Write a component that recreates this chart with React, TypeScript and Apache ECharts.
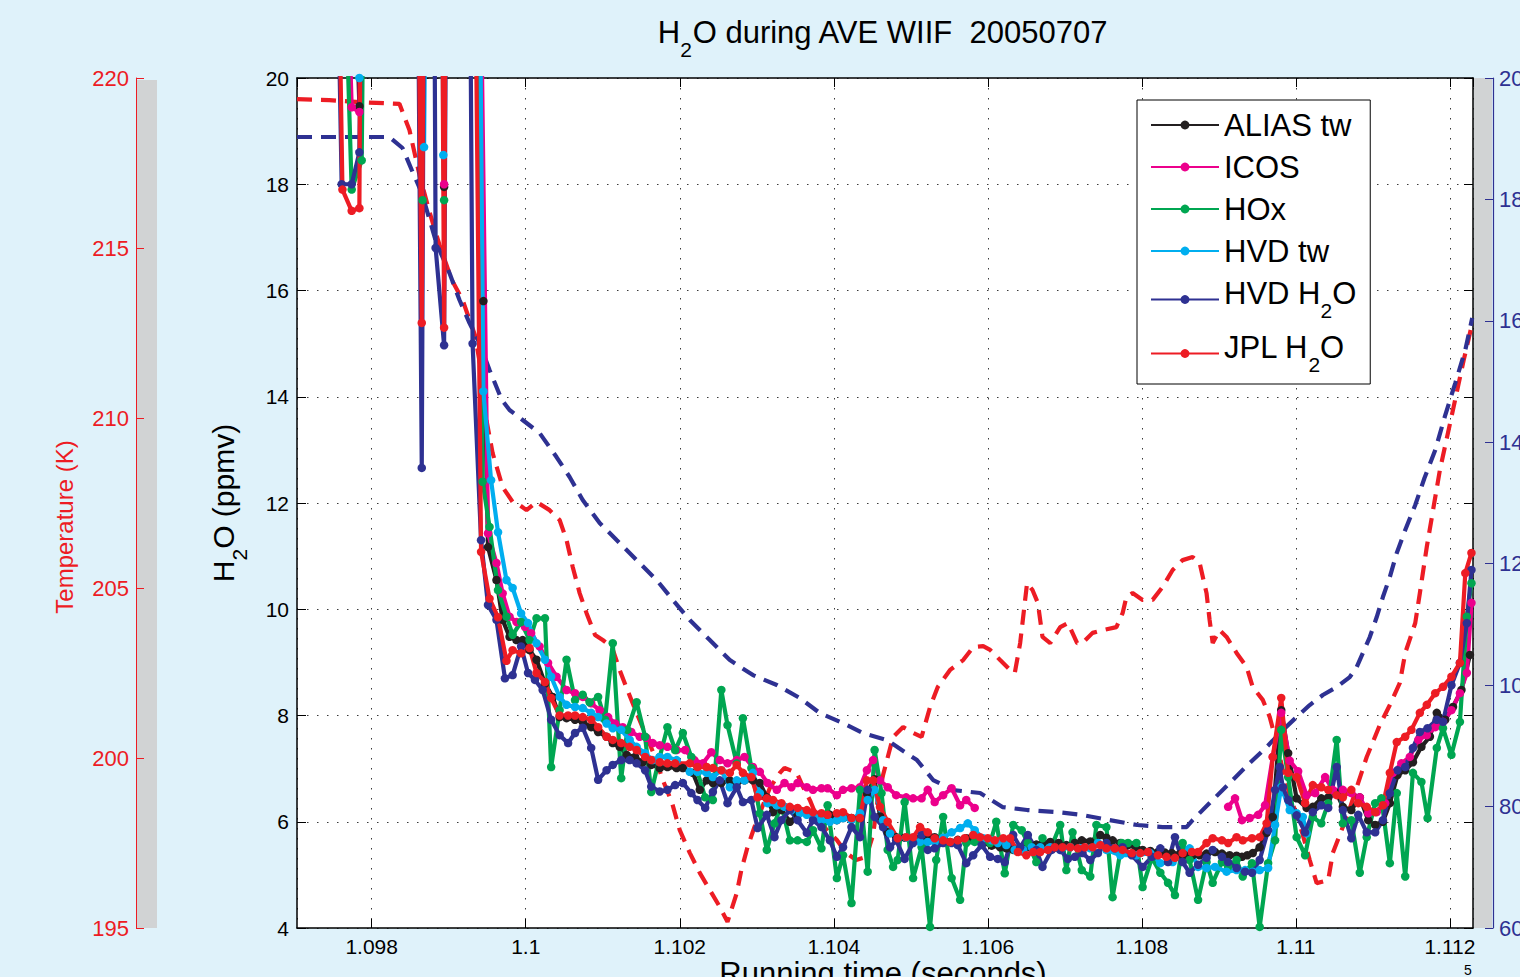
import React, { useEffect, useRef } from 'react';
import * as echarts from 'echarts';

const FONT = 'Liberation Sans, Arial, Helvetica, sans-serif';

// time axis (seconds) and value ranges
const X_MIN = 109703;
const X_MAX = 111230;
const H2O_MIN = 4, H2O_MAX = 20, H2O_STEP = 2;
const T_MIN = 195, T_MAX = 220, T_STEP = 5;
const P_MIN = 60, P_MAX = 200, P_STEP = 20;

const seriesNames = ['ALIAS tw', 'ICOS', 'HOx', 'HVD tw', 'HVD H2O', 'JPL H2O'];
const seriesColors = ['#231f20', '#ec008c', '#00a651', '#00aeef', '#2e3192', '#ed1c24'];

const aliasTw: any[] = [
  [109770,26],[109784,19.47],[109790,26],
  [109890,26],[109894,17.95],[109898,26],
  [109936,26],[109945,15.8],[109951,11.17],[109962,10.55],[109970,9.8],[109979,9.48],[109988,9.42],[109996,9.42],[110005,9.23],[110014,9.05],[110025,8.6],[110035,8.35],[110044,7.97],[110053,7.95],[110064,7.92],[110074,7.88],[110085,7.78],[110094,7.69],[110105,7.6],[110113,7.48],[110122,7.41],[110131,7.26],[110142,7.22],[110152,7.12],[110163,7.07],[110174,7.01],[110184,7.03],[110196,7.01],[110204,7.01],[110217,6.92],[110226,6.6],[110235,6.78],[110243,6.73],[110254,6.73],[110265,6.78],[110274,6.73],[110284,6.78],[110295,6.78],[110304,6.73],[110313,6.46],[110321,6.18],[110332,6.22],[110343,6.0],[110353,6.13],[110365,6.18],[110373,6.16],[110384,6.09],[110395,6.13],[110404,6.03],[110412,6.07],[110423,6.07],[110434,6.07],[110443,6.54],[110453,6.8],[110460,6.1],[110470,5.8],[110481,5.71],[110492,5.7],[110503,5.69],[110514,5.72],[110522,5.72],[110531,5.71],[110542,5.65],[110551,5.62],[110561,5.66],[110572,5.69],[110583,5.65],[110594,5.6],[110605,5.55],[110616,5.52],[110624,5.5],[110633,5.47],[110642,5.5],[110652,5.52],[110663,5.57],[110671,5.6],[110681,5.62],[110692,5.6],[110702,5.56],[110713,5.6],[110722,5.65],[110733,5.63],[110746,5.75],[110754,5.7],[110762,5.65],[110772,5.6],[110782,5.56],[110793,5.5],[110801,5.47],[110811,5.45],[110821,5.43],[110830,5.42],[110839,5.41],[110849,5.39],[110858,5.37],[110866,5.37],[110875,5.37],[110884,5.4],[110895,5.43],[110904,5.4],[110914,5.37],[110923,5.36],[110930,5.34],[110937,5.37],[110944,5.41],[110953,5.52],[110962,5.79],[110970,6.09],[110981,8.1],[110990,7.29],[111001,6.44],[111014,6.26],[111022,6.28],[111033,6.44],[111042,6.46],[111053,6.54],[111061,6.28],[111072,6.22],[111083,6.46],[111094,6.03],[111103,5.94],[111113,6.0],[111122,6.35],[111132,6.88],[111142,6.97],[111152,7.12],[111163,7.41],[111174,7.6],[111183,8.05],[111194,7.92],[111204,8.16],[111215,8.48],[111226,9.14]
];

const icos: any[] = [
  [109760,26],[109774,19.45],[109784,19.36],[109789,26],
  [109890,26],[109894,18.0],[109898,26],
  [109938,26],[109951,11.43],[109962,10.87],[109970,10.3],[109979,9.86],[109988,9.76],[109999,9.67],[110007,9.55],[110018,9.3],[110029,8.99],[110040,8.73],[110053,8.48],[110064,8.42],[110074,8.35],[110085,8.23],[110096,8.1],[110107,7.97],[110116,7.85],[110126,7.78],[110137,7.69],[110148,7.6],[110157,7.58],[110165,7.48],[110174,7.44],[110184,7.41],[110196,7.35],[110207,7.35],[110219,7.16],[110230,7.1],[110241,7.31],[110252,7.16],[110262,7.1],[110274,7.16],[110284,7.22],[110295,7.03],[110304,6.94],[110314,6.73],[110326,6.6],[110336,6.73],[110345,6.65],[110353,6.73],[110365,6.65],[110373,6.6],[110384,6.63],[110392,6.63],[110404,6.5],[110412,6.6],[110423,6.63],[110434,6.65],[110443,6.97],[110451,7.16],[110460,6.78],[110470,6.65],[110481,6.5],[110494,6.46],[110503,6.44],[110514,6.44],[110522,6.6],[110531,6.37],[110542,6.5],[110553,6.63],[110564,6.31],[110572,6.41],[110583,6.26],
  [110700,'-'],
  [110912,6.28],[110921,6.44],[110930,6.03],[110940,6.07],[110951,6.13],[110960,6.31],[110970,7.22],[110981,8.05],[110992,7.15],[111003,6.95],[111014,6.5],[111025,6.54],[111038,6.84],[111048,6.6],[111061,6.6],[111072,6.54],[111083,6.46],[111094,6.16],[111105,6.18],[111116,6.35],[111126,6.92],[111137,7.1],[111148,7.22],[111159,7.54],[111170,7.63],[111181,7.78],[111191,7.88],[111202,8.1],[111213,8.42],[111222,8.8],[111228,10.12]
];

const hox: any[] = [
  [109757,26],[109774,17.9],[109787,18.45],[109792,26],
  [109860,26],[109866,17.7],[109870,26],[109890,26],[109894,17.7],[109898,26],
  [109936,26],[109944,12.4],[109953,11.55],[109964,10.36],[109975,9.86],[109983,9.52],[109994,9.76],[110005,9.42],[110014,9.83],[110025,9.83],[110033,7.03],[110044,8.1],[110053,9.05],[110064,8.29],[110074,8.39],[110083,8.25],[110094,8.35],[110103,7.92],[110113,9.36],[110124,6.82],[110132,7.73],[110144,8.25],[110155,7.6],[110163,6.56],[110174,7.22],[110184,7.78],[110194,7.35],[110204,7.67],[110215,7.22],[110223,6.94],[110233,6.46],[110243,6.41],[110254,8.48],[110262,7.82],[110274,7.1],[110282,7.95],[110293,7.01],[110304,6.16],[110313,5.47],[110323,5.97],[110332,6.31],[110343,5.65],[110353,5.65],[110365,5.62],[110373,5.84],[110384,5.5],[110392,6.31],[110404,4.94],[110412,5.37],[110423,4.47],[110434,6.6],[110444,5.06],[110453,7.35],[110462,6.54],[110470,5.47],[110477,5.15],[110483,5.28],[110492,6.37],[110503,4.94],[110514,5.52],[110525,4.02],[110533,5.28],[110542,6.09],[110553,4.94],[110564,4.53],[110572,5.6],[110583,5.62],[110594,5.65],[110603,5.6],[110611,6.0],[110622,5.03],[110633,5.94],[110644,5.84],[110652,5.6],[110663,5.24],[110671,5.69],[110681,5.47],[110694,5.94],[110702,5.09],[110710,5.8],[110722,5.09],[110733,4.97],[110741,5.94],[110754,5.9],[110762,4.58],[110774,5.6],[110782,5.6],[110793,5.6],[110801,4.77],[110813,5.32],[110824,5.04],[110834,4.85],[110843,4.62],[110853,5.6],[110862,5.28],[110873,4.53],[110884,5.24],[110892,4.85],[110904,5.24],[110912,5.15],[110923,5.28],[110931,4.97],[110943,5.22],[110953,4.02],[110964,5.22],[110973,5.65],[110981,7.73],[110990,6.84],[111001,5.71],[111012,5.37],[111022,6.09],[111033,5.97],[111042,6.35],[111053,7.54],[111061,5.97],[111072,6.03],[111083,5.04],[111092,5.71],[111103,6.35],[111111,6.44],[111122,5.22],[111131,6.54],[111142,4.97],[111152,6.92],[111163,6.75],[111171,6.07],[111183,7.39],[111191,7.76],[111202,7.26],[111213,7.88],[111222,9.86],[111228,10.49]
];

const hvdTw: any[] = [
  [109780,26],[109784,20.0],[109788,26],
  [109862,26],[109868,18.7],[109872,26],[109890,26],[109893,18.55],[109897,26],
  [109938,26],[109945,14.1],[109955,12.43],[109964,11.45],[109975,10.55],[109983,10.4],[109994,9.92],[110003,9.74],[110014,9.36],[110025,9.05],[110033,8.73],[110044,8.35],[110053,8.2],[110064,8.16],[110074,8.14],[110085,8.05],[110094,7.97],[110105,7.85],[110113,7.76],[110124,7.73],[110135,7.54],[110144,7.41],[110155,7.29],[110165,7.16],[110174,7.22],[110184,7.22],[110196,7.16],[110213,6.94],[110223,6.94],[110235,6.92],[110243,6.84],[110254,6.97],[110265,6.65],[110274,6.78],[110284,6.78],[110295,6.92],[110304,6.54],[110314,6.35],[110326,6.31],[110336,6.28],[110345,6.22],[110356,6.16],[110365,6.13],[110375,6.09],[110384,6.03],[110395,6.0],[110404,6.03],[110412,6.07],[110423,6.03],[110434,6.16],[110444,6.41],[110453,6.6],[110464,6.03],[110473,5.78],[110483,5.69],[110494,5.7],[110503,5.69],[110512,5.62],[110522,5.62],[110531,5.62],[110542,5.7],[110553,5.8],[110564,5.88],[110574,5.97],[110583,5.84],[110594,5.69],[110605,5.65],[110613,5.6],[110624,5.56],[110635,5.47],[110646,5.47],[110657,5.52],[110668,5.52],[110681,5.52],[110694,5.47],[110707,5.52],[110720,5.5],[110733,5.5],[110743,5.6],[110754,5.47],[110772,5.37],[110793,5.37],[110811,5.41],[110824,5.22],[110840,5.24],[110862,5.5],[110873,5.15],[110884,5.13],[110895,5.15],[110910,5.06],[110923,5.09],[110934,5.09],[110944,5.06],[110953,5.09],[110964,5.13],[110973,5.94],[110981,6.65],[110992,6.22],[111001,6.16],[111009,6.09],[111014,5.78]
];

const hvdH2O: any[] = [
  [109751,26],[109761,18.0],[109774,18.0],[109784,18.6],[109790,26],
  [109858,26],[109865,12.66],[109869,26],[109880,26],[109883,16.8],[109894,14.97],[109898,26],
  [109926,26],[109931,15.0],[109942,11.3],[109951,10.08],[109962,9.8],[109973,8.7],[109983,8.76],[109994,9.3],[110003,8.8],[110012,8.67],[110022,8.48],[110033,7.92],[110044,7.63],[110055,7.48],[110064,7.67],[110074,7.77],[110085,7.39],[110094,6.79],[110105,6.97],[110113,7.07],[110124,7.16],[110135,7.16],[110144,7.1],[110155,6.97],[110163,6.66],[110174,6.57],[110184,6.6],[110194,6.69],[110204,6.73],[110215,6.54],[110223,6.41],[110233,6.26],[110243,6.56],[110252,6.78],[110262,6.35],[110274,6.65],[110282,6.37],[110293,6.41],[110301,5.88],[110313,6.13],[110323,5.71],[110332,6.03],[110343,6.22],[110353,6.03],[110365,5.79],[110373,6.03],[110384,5.9],[110395,5.65],[110404,5.34],[110412,5.52],[110423,5.9],[110434,5.71],[110444,6.6],[110453,6.09],[110464,5.9],[110473,5.52],[110481,5.65],[110492,5.3],[110503,5.6],[110514,5.75],[110522,5.47],[110531,5.5],[110542,5.6],[110553,5.6],[110561,5.56],[110572,5.22],[110581,5.37],[110592,5.56],[110603,5.34],[110613,5.3],[110622,5.24],[110633,5.75],[110642,5.52],[110652,5.75],[110663,5.47],[110671,5.15],[110683,5.47],[110694,5.47],[110704,5.3],[110713,5.34],[110723,5.41],[110733,5.28],[110743,5.41],[110754,5.6],[110765,5.5],[110775,5.52],[110787,5.37],[110801,5.15],[110813,5.34],[110824,5.5],[110834,5.24],[110843,5.71],[110853,5.24],[110862,5.04],[110873,5.19],[110884,5.32],[110892,5.47],[110904,5.34],[110912,5.24],[110923,5.13],[110934,5.06],[110943,5.04],[110953,5.28],[110964,5.84],[110973,6.6],[110979,7.03],[110983,6.65],[110990,6.41],[111001,6.12],[111012,5.8],[111022,6.18],[111033,6.31],[111042,6.26],[111053,7.03],[111061,6.22],[111072,5.69],[111081,6.13],[111092,5.8],[111103,5.8],[111113,6.03],[111122,6.54],[111132,6.97],[111142,7.03],[111152,7.39],[111161,7.69],[111171,7.76],[111183,7.92],[111191,7.88],[111202,8.57],[111213,8.99],[111222,9.74],[111228,10.74]
];

const jplH2O: any[] = [
  [109753,26],[109762,17.9],[109774,17.5],[109784,17.55],[109787,26],
  [109858,26],[109865,15.39],[109869,26],[109890,26],[109894,15.3],[109897,26],
  [109932,26],[109942,11.08],[109953,10.2],[109964,9.85],[109975,9.03],[109983,9.23],[109994,9.17],[110005,9.27],[110014,8.8],[110025,8.63],[110033,8.33],[110044,8.0],[110055,8.0],[110064,8.0],[110074,7.97],[110085,7.92],[110094,7.78],[110105,7.6],[110113,7.54],[110124,7.48],[110135,7.41],[110144,7.35],[110155,7.22],[110163,7.16],[110174,7.12],[110184,7.1],[110194,7.1],[110213,7.1],[110223,7.03],[110235,7.03],[110243,7.01],[110254,6.97],[110265,6.92],[110274,7.07],[110282,6.92],[110293,6.84],[110301,6.46],[110313,6.44],[110321,6.41],[110332,6.35],[110343,6.28],[110353,6.26],[110365,6.22],[110373,6.18],[110384,6.16],[110392,6.13],[110404,6.16],[110412,6.18],[110423,6.07],[110434,6.07],[110443,6.78],[110451,6.78],[110460,6.28],[110470,6.0],[110483,5.69],[110494,5.71],[110503,5.71],[110512,5.9],[110522,5.8],[110531,5.69],[110542,5.65],[110551,5.62],[110561,5.65],[110570,5.69],[110581,5.75],[110590,5.71],[110600,5.69],[110609,5.65],[110620,5.69],[110629,5.69],[110639,5.43],[110650,5.37],[110659,5.43],[110668,5.43],[110678,5.47],[110687,5.52],[110697,5.52],[110707,5.52],[110717,5.5],[110726,5.52],[110736,5.52],[110746,5.56],[110754,5.5],[110765,5.5],[110775,5.47],[110787,5.41],[110798,5.41],[110808,5.43],[110821,5.37],[110832,5.34],[110843,5.32],[110853,5.41],[110865,5.43],[110873,5.43],[110884,5.6],[110892,5.69],[110904,5.65],[110912,5.6],[110923,5.71],[110931,5.65],[110943,5.69],[110953,5.71],[110962,5.97],[110970,7.22],[110981,8.33],[110990,6.92],[111001,6.84],[111012,6.35],[111022,6.69],[111033,6.65],[111042,6.6],[111053,6.5],[111061,6.46],[111072,6.6],[111081,6.35],[111092,6.28],[111103,6.18],[111113,6.31],[111122,6.92],[111131,7.5],[111142,7.6],[111150,7.73],[111161,8.05],[111170,8.2],[111181,8.42],[111191,8.54],[111202,8.73],[111213,8.99],[111220,10.68],[111228,11.06]
];

// temperature (K), left red axis, dashed red
const temperature: any[] = [
  [109703,219.38],[109745,219.35],[109784,219.29],[109836,219.24],[109849,218.47],[109862,217.15],[109875,216.06],[109888,215.09],[109904,214.06],[109918,213.47],[109934,212.44],[109942,211.41],[109949,209.94],[109957,208.97],[109970,207.97],[109983,207.53],[109992,207.44],[110001,207.29],[110014,207.53],[110031,207.29],[110044,207.0],[110053,206.41],[110061,205.62],[110070,204.85],[110079,204.26],[110090,203.62],[110100,203.47],[110112,203.26],[110122,202.59],[110132,202.0],[110144,201.32],[110157,200.62],[110168,200.03],[110178,199.35],[110190,198.68],[110200,197.88],[110213,197.21],[110226,196.62],[110239,196.12],[110252,195.62],[110262,195.18],[110274,196.03],[110280,196.71],[110288,197.38],[110297,197.97],[110304,198.38],[110317,199.12],[110330,199.56],[110336,199.71],[110352,199.56],[110360,199.15],[110369,198.76],[110378,198.26],[110391,197.88],[110404,197.59],[110416,197.21],[110429,197.0],[110442,197.09],[110451,197.74],[110457,198.76],[110464,199.5],[110477,200.62],[110490,200.91],[110503,200.74],[110514,200.62],[110525,201.5],[110535,202.09],[110551,202.59],[110568,202.88],[110581,203.26],[110594,203.29],[110603,203.18],[110616,202.88],[110629,202.59],[110635,202.5],[110642,203.38],[110648,204.56],[110651,205.15],[110658,204.94],[110665,204.56],[110671,203.56],[110681,203.38],[110694,203.85],[110704,203.97],[110716,203.38],[110723,203.38],[110736,203.68],[110749,203.76],[110767,203.85],[110775,204.26],[110780,204.74],[110788,204.85],[110801,204.65],[110814,204.65],[110827,205.03],[110840,205.53],[110853,205.82],[110866,205.91],[110875,205.74],[110884,204.85],[110888,204.06],[110892,203.38],[110901,203.76],[110910,203.56],[110923,203.09],[110936,202.68],[110944,202.09],[110957,201.71],[110966,201.21],[110975,200.44],[110983,199.65],[110992,198.91],[111001,198.32],[111009,197.74],[111018,197.0],[111027,196.32],[111042,196.41],[111048,197.21],[111068,198.38],[111092,200.03],[111109,200.97],[111122,201.56],[111135,202.21],[111142,203.09],[111155,203.97],[111161,204.85],[111170,206.21],[111187,208.47],[111204,210.24],[111218,211.71],[111227,212.59]
];

// right navy axis, dashed navy
const pressure: any[] = [
  [109703,190.28],[109823,190.28],[109840,188.47],[109852,184.85],[109865,181.06],[109884,172.82],[109901,167.88],[109914,163.43],[109927,159.64],[109940,156.35],[109953,151.9],[109969,146.96],[109979,145.31],[109996,143.67],[110018,141.52],[110040,137.57],[110057,134.28],[110074,130.49],[110096,126.7],[110118,123.9],[110144,120.6],[110170,117.31],[110191,114.02],[110213,110.72],[110239,107.43],[110265,104.13],[110295,101.66],[110326,100.02],[110356,97.87],[110382,95.4],[110412,93.75],[110438,92.11],[110469,90.95],[110508,87.66],[110529,84.37],[110555,82.72],[110590,82.23],[110619,79.92],[110651,79.43],[110690,79.1],[110723,78.6],[110758,77.78],[110794,76.96],[110827,76.63],[110858,76.63],[110866,77.78],[110888,80.58],[110914,83.87],[110940,87.17],[110962,89.8],[110983,92.6],[111001,94.75],[111018,96.72],[111035,98.37],[111053,99.69],[111070,101.33],[111079,102.98],[111087,105.29],[111096,107.92],[111105,111.22],[111113,114.51],[111122,117.81],[111131,121.76],[111142,125.55],[111155,129.67],[111167,134.11],[111181,138.72],[111194,144.49],[111207,149.76],[111220,155.2],[111229,160.47]
];

const seriesData = [aliasTw, icos, hox, hvdTw, hvdH2O, jplH2O];

const legendRich: Record<string, string> = {
  'ALIAS tw': '{m|ALIAS tw}',
  'ICOS': '{m|ICOS}',
  'HOx': '{m|HOx}',
  'HVD tw': '{m|HVD tw}',
  'HVD H2O': '{m|HVD H}{s|2}{m|O}',
  'JPL H2O': '{m|JPL H}{s|2}{m|O}',
};

const RED = '#ed1c24';
const NAVY = '#2e3192';

function buildOption(): any {
  const gridDots = { color: '#3a3a3a', width: 1, type: [1.5, 8.5] };
  const solidSeries = seriesNames.map((name, i) => ({
    type: 'line',
    name,
    data: seriesData[i],
    xAxisIndex: 0,
    yAxisIndex: 0,
    symbol: 'circle',
    symbolSize: 8.5,
    showSymbol: true,
    connectNulls: false,
    lineStyle: { color: seriesColors[i], width: 4.2 },
    itemStyle: { color: seriesColors[i] },
    silent: true,
    z: 3,
  }));
  return {
    animation: false,
    backgroundColor: '#dff2fa',
    textStyle: { fontFamily: FONT },
    grid: {
      left: 297, right: 47, top: 78, bottom: 49,
      show: true, backgroundColor: '#ffffff', borderWidth: 0,
      containLabel: false, outerBoundsMode: 'none',
    },
    legend: {
      show: true,
      orient: 'vertical',
      left: 1137,
      top: 100,
      padding: [10, 14, 9, 13],
      itemGap: 11,
      itemWidth: 68,
      itemHeight: 11,
      backgroundColor: '#ffffff',
      borderColor: '#000000',
      borderWidth: 1,
      borderRadius: 0,
      selectedMode: false,
      data: seriesNames,
      formatter: (name: string) => legendRich[name] || name,
      textStyle: {
        color: '#000',
        rich: {
          m: { fontSize: 31, lineHeight: 30, verticalAlign: 'top', fontFamily: FONT, color: '#000' },
          s: { fontSize: 21, lineHeight: 43, verticalAlign: 'bottom', fontFamily: FONT, color: '#000' },
        },
      },
    },
    xAxis: [
      {
        type: 'value', min: X_MIN, max: X_MAX, splitNumber: 7, position: 'bottom',
        axisLine: { show: true, onZero: false, lineStyle: { color: '#000', width: 1.5 } },
        axisTick: { show: true, inside: true, length: 9, lineStyle: { color: '#000', width: 1 } },
        axisLabel: {
          show: true, fontSize: 21, color: '#000', margin: 8, fontFamily: FONT,
          showMinLabel: false, showMaxLabel: false,
          formatter: (v: number) => String(parseFloat((v / 1e5).toFixed(3))),
        },
        splitLine: { show: true, lineStyle: gridDots },
      },
      {
        type: 'value', min: X_MIN, max: X_MAX, splitNumber: 7, position: 'top',
        axisLine: { show: true, onZero: false, lineStyle: { color: '#000', width: 1.5 } },
        axisTick: { show: true, inside: true, length: 9, lineStyle: { color: '#000', width: 1 } },
        axisLabel: { show: false },
        splitLine: { show: false },
      },
    ],
    yAxis: [
      {
        type: 'value', min: H2O_MIN, max: H2O_MAX, interval: H2O_STEP, position: 'left',
        axisLine: { show: true, onZero: false, lineStyle: { color: '#000', width: 1.5 } },
        axisTick: { show: true, inside: true, length: 9, lineStyle: { color: '#000', width: 1 } },
        axisLabel: { show: true, fontSize: 21, color: '#000', margin: 8, fontFamily: FONT },
        splitLine: { show: true, lineStyle: gridDots },
      },
      {
        type: 'value', min: T_MIN, max: T_MAX, interval: T_STEP, position: 'left', offset: 161,
        axisLine: { show: true, onZero: false, lineStyle: { color: RED, width: 1 } },
        axisTick: { show: true, inside: true, length: 8, lineStyle: { color: RED, width: 1 } },
        axisLabel: { show: true, fontSize: 22, color: RED, margin: 7, fontFamily: FONT },
        splitLine: { show: false },
      },
      {
        type: 'value', min: P_MIN, max: P_MAX, interval: P_STEP, position: 'right', offset: 20,
        axisLine: { show: true, onZero: false, lineStyle: { color: NAVY, width: 1.2 } },
        axisTick: { show: true, inside: true, length: 8, lineStyle: { color: NAVY, width: 1 } },
        axisLabel: { show: true, fontSize: 22, color: NAVY, margin: 6, fontFamily: FONT },
        splitLine: { show: false },
      },
      {
        type: 'value', min: H2O_MIN, max: H2O_MAX, interval: H2O_STEP, position: 'right', offset: 0,
        axisLine: { show: true, onZero: false, lineStyle: { color: '#000', width: 1.5 } },
        axisTick: { show: true, inside: true, length: 9, lineStyle: { color: '#000', width: 1 } },
        axisLabel: { show: false },
        splitLine: { show: false },
      },
    ],
    graphic: [
      { type: 'rect', silent: true, z: 0, shape: { x: 137, y: 80, width: 20, height: 848 }, style: { fill: '#d1d3d4' } },
      { type: 'rect', silent: true, z: 0, shape: { x: 1473.5, y: 78, width: 18.5, height: 850 }, style: { fill: '#d1d3d4' } },
      {
        type: 'text', x: 883, y: 17, silent: true,
        style: {
          text: '{m|H}{s|2}{m|O during AVE WIIF  20050707}',
          align: 'center', verticalAlign: 'top', textAlign: 'center', textVerticalAlign: 'top',
          fill: '#000',
          rich: {
            m: { fontSize: 31, lineHeight: 30, verticalAlign: 'top', fontFamily: FONT, fill: '#000' },
            s: { fontSize: 21, lineHeight: 43, verticalAlign: 'bottom', fontFamily: FONT, fill: '#000' },
          },
        },
      },
      {
        type: 'text', x: 208, y: 503, rotation: Math.PI / 2, silent: true,
        style: {
          text: '{m|H}{s|2}{m|O (ppmv)}',
          align: 'center', verticalAlign: 'top', textAlign: 'center', textVerticalAlign: 'top',
          fill: '#000',
          rich: {
            m: { fontSize: 30, lineHeight: 30, verticalAlign: 'top', fontFamily: FONT, fill: '#000' },
            s: { fontSize: 21, lineHeight: 42, verticalAlign: 'bottom', fontFamily: FONT, fill: '#000' },
          },
        },
      },
      {
        type: 'text', x: 64, y: 527, rotation: Math.PI / 2, silent: true,
        style: {
          text: 'Temperature (K)', fontSize: 24, fontFamily: FONT, fill: RED,
          align: 'center', verticalAlign: 'middle', textAlign: 'center', textVerticalAlign: 'middle',
        },
      },
      {
        type: 'text', x: 883, y: 958, silent: true,
        style: {
          text: 'Running time (seconds)', fontSize: 31, fontFamily: FONT, fill: '#000',
          align: 'center', verticalAlign: 'top', textAlign: 'center', textVerticalAlign: 'top',
        },
      },
      {
        type: 'text', x: 1468, y: 963, silent: true,
        style: {
          text: '5', fontSize: 14, fontFamily: FONT, fill: '#000',
          align: 'center', verticalAlign: 'top', textAlign: 'center', textVerticalAlign: 'top',
        },
      },
    ],
    series: [
      {
        type: 'line', name: 'Temperature', data: temperature, xAxisIndex: 0, yAxisIndex: 1,
        symbol: 'none', showSymbol: false, silent: true, z: 2,
        lineStyle: { color: RED, width: 4.2, type: [15, 9] },
      },
      {
        type: 'line', name: 'Pressure', data: pressure, xAxisIndex: 0, yAxisIndex: 2,
        symbol: 'none', showSymbol: false, silent: true, z: 2,
        lineStyle: { color: NAVY, width: 4.2, type: [15, 9] },
      },
      ...solidSeries,
    ],
  };
}

export default function App() {
  const ref = useRef<HTMLDivElement>(null);
  useEffect(() => {
    if (!ref.current) return;
    const chart = echarts.init(ref.current, null, { renderer: 'svg' });
    chart.setOption(buildOption());
    return () => chart.dispose();
  }, []);
  return (
    <div
      ref={ref}
      style={{ position: 'absolute', left: 0, top: 0, width: 1520, height: 977, overflow: 'hidden', background: '#dff2fa' }}
    />
  );
}
